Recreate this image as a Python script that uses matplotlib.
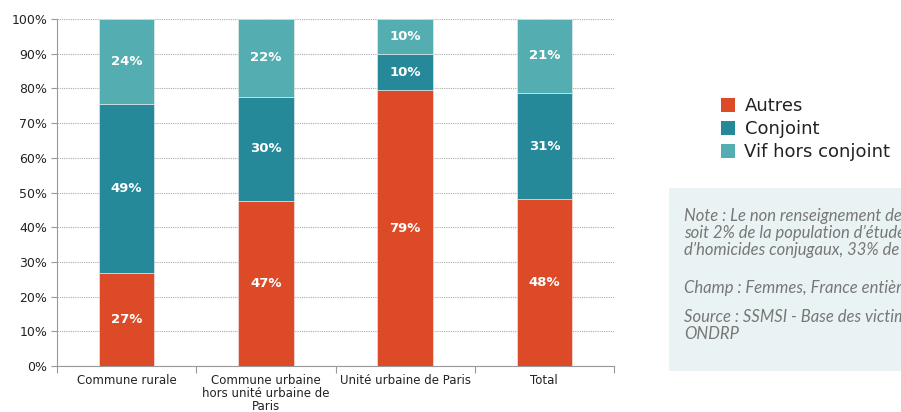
import matplotlib
matplotlib.use("Agg")
import matplotlib.pyplot as plt
from matplotlib.patches import Rectangle, Patch
import numpy as np

categories = ["Commune rurale", "Commune urbaine\nhors unité urbaine de\nParis",
              "Unité urbaine de Paris", "Total"]
autres = [26.7, 47.6, 79.5, 48.0]
conjoint = [48.9, 30.0, 10.3, 30.8]
vif = [24.4, 22.4, 10.2, 21.2]
labels_autres = ["27%", "47%", "79%", "48%"]
labels_conjoint = ["49%", "30%", "10%", "31%"]
labels_vif = ["24%", "22%", "10%", "21%"]
series_names = ["Autres", "Conjoint", "Vif hors conjoint"]
colors = ["#DD4A27", "#26899A", "#54ADB0"]
yticks = list(range(0, 101, 10))

fig = plt.figure(figsize=(9.01, 4.12), dpi=100)
ax = fig.add_axes([57/901, 46/412, 557/901, 347/412])

x = np.arange(len(categories))
w = 0.4
bottom = np.zeros(len(categories))
for vals, labs, col in zip([autres, conjoint, vif], [labels_autres, labels_conjoint, labels_vif], colors):
    ax.bar(x, vals, w, bottom=bottom, color=col, edgecolor="#f0f0f0", linewidth=0.4, zorder=3)
    for xi, b, v, l in zip(x, bottom, vals, labs):
        ax.text(xi, b + v / 2, l, ha="center", va="center", color="white",
                fontsize=9.5, fontweight="bold", zorder=4)
    bottom += np.array(vals)

ax.set_xlim(-0.5, len(categories) - 0.5)
ax.set_ylim(0, 100)
ax.set_yticks(yticks)
ax.set_yticklabels([f"{t}%" for t in yticks], fontsize=9, color="#222222")
ax.yaxis.grid(True, linestyle=(0, (1, 1)), color="#aaaaaa", linewidth=0.8, zorder=0)
ax.set_xticks(np.arange(-0.5, len(categories)), minor=False)
ax.set_xticklabels([])
ax.set_xticks(x, minor=True)
ax.set_xticklabels(categories, minor=True, fontsize=8.5, color="#222222", linespacing=1.0)
ax.tick_params(axis="x", which="minor", length=0, pad=6)
ax.tick_params(axis="x", which="major", length=5, color="#999999")
ax.tick_params(axis="y", length=4, color="#999999", pad=3)
for s in ["top", "right"]:
    ax.spines[s].set_visible(False)
for s in ["left", "bottom"]:
    ax.spines[s].set_color("#999999")

handles = [Patch(facecolor=c, edgecolor="none") for c in colors]
fig.legend(handles, series_names, loc="upper left", bbox_to_anchor=(712/901, 1 - 88/412),
           frameon=False, fontsize=13, handlelength=0.8, handleheight=0.8,
           handletextpad=0.5, labelspacing=0.28, borderpad=0, labelcolor="#222222")

fig.patches.append(Rectangle((669/901, (412-371)/412), 240/901, 183/412,
                             transform=fig.transFigure, facecolor="#EAF3F4", edgecolor="none"))
note_kw = dict(fontsize=12, style="italic", color="#777777", family="Lato", fontweight="normal",
               va="top", ha="left", linespacing=1.05)
fig.text(684/901, 1 - 208/412,
         "Note : Le non renseignement de\n"
         "soit 2% de la population d’étude\n"
         "d’homicides conjugaux, 33% de", **note_kw)
fig.text(684/901, 1 - 280/412, "Champ : Femmes, France entière", **note_kw)
fig.text(684/901, 1 - 309/412, "Source : SSMSI - Base des victimes\nONDRP", **note_kw)

fig.savefig("out.png", dpi=100)
